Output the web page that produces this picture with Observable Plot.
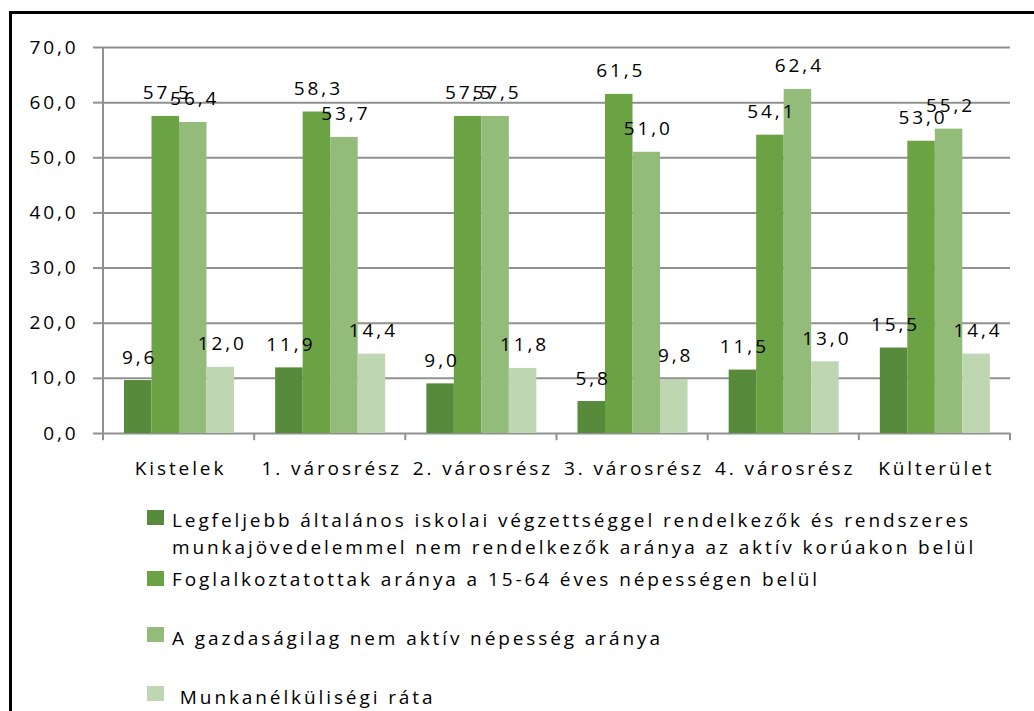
<!DOCTYPE html>
<html>
<head>
<meta charset="utf-8">
<script src="https://cdn.jsdelivr.net/npm/d3@7"></script>
<script src="https://cdn.jsdelivr.net/npm/@observablehq/plot@0.6"></script>
<style>
  html, body { margin: 0; padding: 0; background: #fff; width: 1034px; height: 711px; overflow: hidden; }
  #frame { position: absolute; left: 9px; top: 11px; width: 1100px; height: 800px; border: 3px solid #000; box-sizing: border-box; }
  #chart { position: absolute; left: 0; top: 0; }
  .leg { position: absolute; font-family: "Open Sans", sans-serif; font-size: 19px; line-height: 27px; letter-spacing: 2.9px; color: #000; white-space: nowrap; }
  .sw { position: absolute; width: 17px; height: 15px; }
</style>
</head>
<body>
<div id="frame"></div>
<div id="chart"></div>
<div id="legend"></div>
<script>
const categories = ["Kistelek", "1. városrész", "2. városrész", "3. városrész", "4. városrész", "Külterület"];
const seriesNames = [
  "Legfeljebb általános iskolai végzettséggel rendelkezők és rendszeres<br>munkajövedelemmel nem rendelkezők aránya az aktív korúakon belül",
  "Foglalkoztatottak aránya a 15-64 éves népességen belül",
  "A gazdaságilag nem aktív népesség aránya",
  "\u00a0Munkanélküliségi ráta"
];
const lowEduc = [9.6, 11.9, 9.0, 5.8, 11.5, 15.5];
const employed = [57.5, 58.3, 57.5, 61.5, 54.1, 53.0];
const inactive = [56.4, 53.7, 57.5, 51.0, 62.4, 55.2];
const unemployment = [12.0, 14.4, 11.8, 9.8, 13.0, 14.4];
const yTicks = [0, 10, 20, 30, 40, 50, 60, 70];
const colors = ["#578a3a", "#6aa244", "#93bb7a", "#bed6b2"];

const series = [lowEduc, employed, inactive, unemployment];
const fmt = v => v.toFixed(1).replace(".", ",");

const W = 1034, H = 490, ML = 103, MR = 24, MT = 47, MB = 57;
const step = (W - ML - MR) / categories.length;
const groupOffset = 21, barW = 27.5, ls = 2.9;
const gray = "#909090";

const marks = [];
marks.push(Plot.ruleY(yTicks, {stroke: gray, strokeWidth: 2}));
marks.push(Plot.axisY({ticks: yTicks, tickFormat: fmt, tickSize: 10, tickPadding: 15, stroke: gray, strokeWidth: 2, fill: "#000", fontSize: 19, label: null}));
marks.push(Plot.axisX({tickSize: 0, tickPadding: 28, fill: "#000", fontSize: 19, dx: ls / 2, label: null}));
// y axis line
marks.push(Plot.barY([categories[0]], {x: d => d, y1: 0, y2: 70, fill: gray, insetLeft: -1, insetRight: step - 1}));
// category boundary ticks
marks.push(Plot.barY(categories, {x: d => d, y1: 0, y2: -1.3, fill: gray, insetLeft: -1, insetRight: step - 1}));
marks.push(Plot.barY([categories[categories.length - 1]], {x: d => d, y1: 0, y2: -1.3, fill: gray, insetLeft: step - 1, insetRight: -1}));

series.forEach((vals, i) => {
  const data = categories.map((c, j) => ({cat: c, v: vals[j]}));
  marks.push(Plot.barY(data, {
    x: "cat", y: "v", fill: colors[i],
    insetLeft: groupOffset + barW * i,
    insetRight: step - groupOffset - barW * (i + 1)
  }));
});
series.forEach((vals, i) => {
  const data = categories.map((c, j) => ({cat: c, v: vals[j]}));
  marks.push(Plot.text(data, {
    x: "cat", y: "v", text: d => fmt(d.v), fill: "#000", fontSize: 19,
    dx: -step / 2 + groupOffset + barW * (i + 0.5) + ls / 2,
    dy: -17, lineAnchor: "bottom"
  }));
});

const chart = Plot.plot({
  width: W, height: H,
  marginLeft: ML, marginRight: MR, marginTop: MT, marginBottom: MB,
  style: {fontFamily: "'Open Sans', sans-serif", fontSize: "19px", letterSpacing: ls + "px", background: "transparent", color: "#000", overflow: "visible"},
  x: {type: "band", domain: categories, padding: 0, round: false, axis: null, label: null},
  y: {domain: [0, 70], axis: null, label: null},
  marks
});
document.getElementById("chart").appendChild(chart);

// legend
const legend = document.getElementById("legend");
const swTops = [510, 571, 627, 686];
const textTops = [507, 566, 625, 684];
seriesNames.forEach((name, i) => {
  const sw = document.createElement("div");
  sw.className = "sw";
  sw.style.left = "147px";
  sw.style.top = swTops[i] + "px";
  sw.style.background = colors[i];
  legend.appendChild(sw);
  const t = document.createElement("div");
  t.className = "leg";
  t.style.left = "172px";
  t.style.top = textTops[i] + "px";
  t.innerHTML = name;
  legend.appendChild(t);
});
</script>
</body>
</html>
